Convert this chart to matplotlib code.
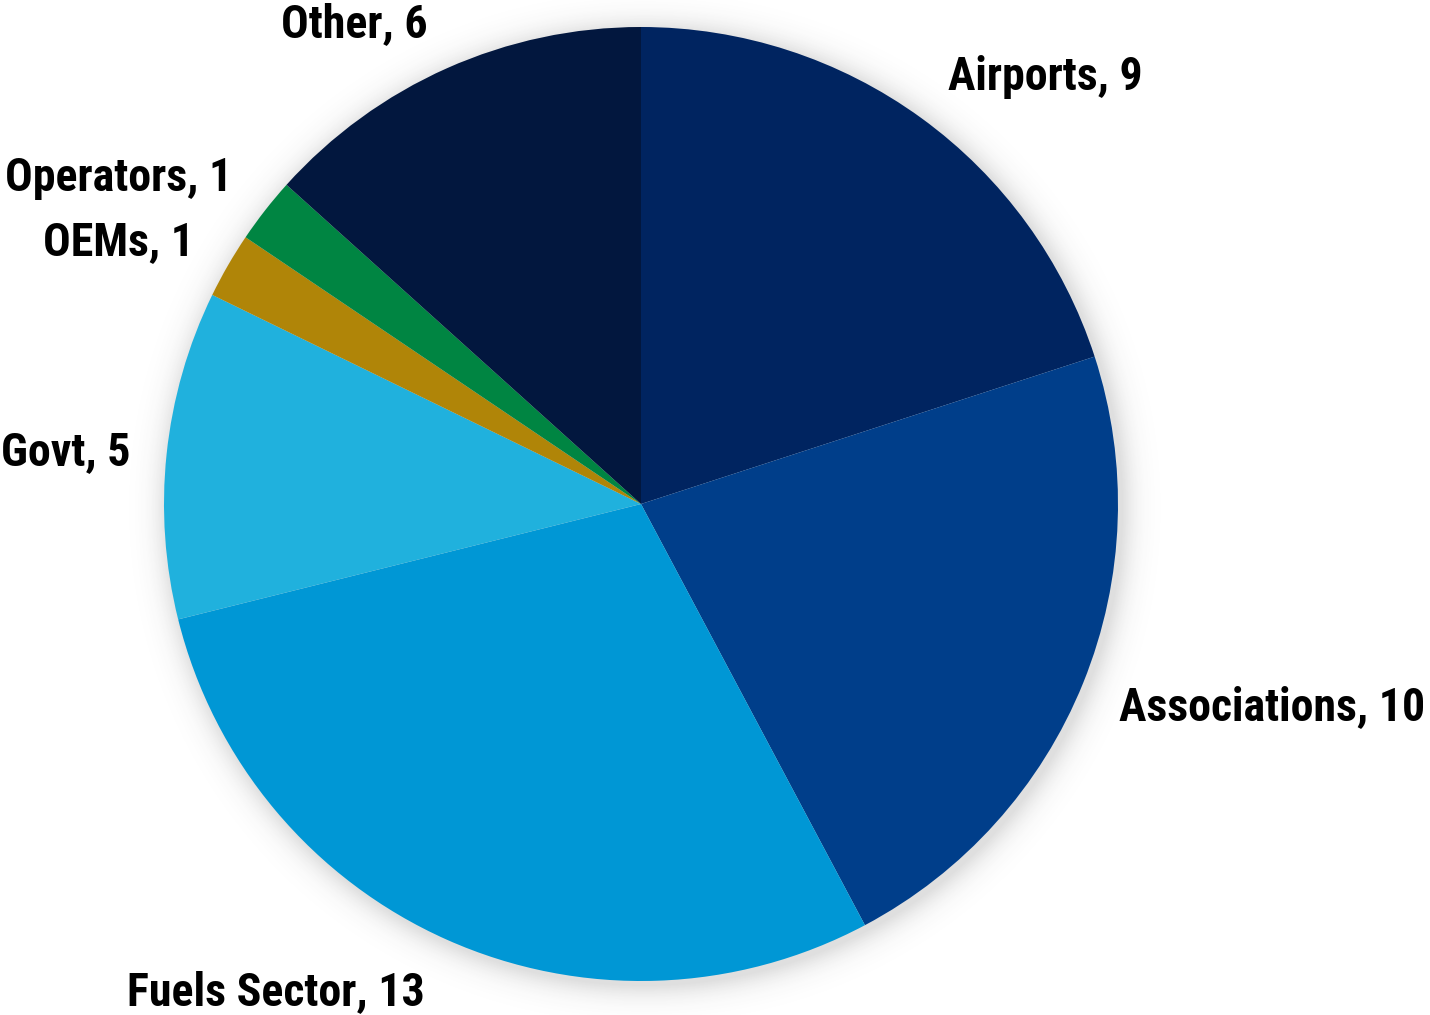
import numpy as np
import matplotlib

matplotlib.use("Agg")

import matplotlib.pyplot as plt
from matplotlib import font_manager

CATEGORIES = ["Airports", "Associations", "Fuels Sector", "Govt", "OEMs", "Operators", "Other"]
COUNTS = [9, 10, 13, 5, 1, 1, 6]
COLORS = ["#002460", "#003E8A", "#0097D5", "#20B1DD", "#B08508", "#008542", "#02173E"]

# label anchors (data units, pie radius = 1)
LABEL_POS = [
    (0.847, 0.895),
    (1.323, -0.425),
    (-0.765, -1.023),
    (-1.205, 0.109),
    (-1.096, 0.549),
    (-1.096, 0.684),
    (-0.602, 1.006),
]

W, H, DPI = 1430, 1015, 100
CX, CY, R = 641, 504, 477


def label_font(size):
    for f in font_manager.fontManager.ttflist:
        if f.fname.endswith("RobotoCondensed-Bold.ttf"):
            return font_manager.FontProperties(fname=f.fname, size=size)
    return font_manager.FontProperties(family="DejaVu Sans", weight="bold", size=size * 0.8)


fig = plt.figure(figsize=(W / DPI, H / DPI), dpi=DPI)
ax = fig.add_axes([0, 0, 1, 1])
ax.set_aspect("equal")
ax.axis("off")

# soft glow behind the pie
xs = np.linspace(-CX / R, (W - CX) / R, W)
ys = np.linspace((CY - H) / R, CY / R, H)
gx, gy = np.meshgrid(xs, ys)
rr = np.hypot(gx - 0.008, gy + 0.008)
alpha = np.where(rr > 1.0, 0.16 * np.exp(-((rr - 1.0) / 0.03) ** 1.3), 0.16)
rgba = np.zeros((H, W, 4))
rgba[..., :3] = 0.2
rgba[..., 3] = alpha
ax.imshow(rgba, extent=(xs[0], xs[-1], ys[0], ys[-1]), origin="lower", zorder=0)

ax.pie(
    COUNTS,
    colors=COLORS,
    startangle=90,
    counterclock=False,
    radius=1.0,
    wedgeprops={"linewidth": 0, "zorder": 1},
)
ax.set_xlim(-CX / R, (W - CX) / R)
ax.set_ylim((CY - H) / R, CY / R)

font = label_font(33)
for name, count, (x, y) in zip(CATEGORIES, COUNTS, LABEL_POS):
    ax.text(
        x, y, f"{name}, {count}",
        ha="center", va="center", fontproperties=font, color="black",
    )

fig.savefig("out.png", dpi=DPI)
